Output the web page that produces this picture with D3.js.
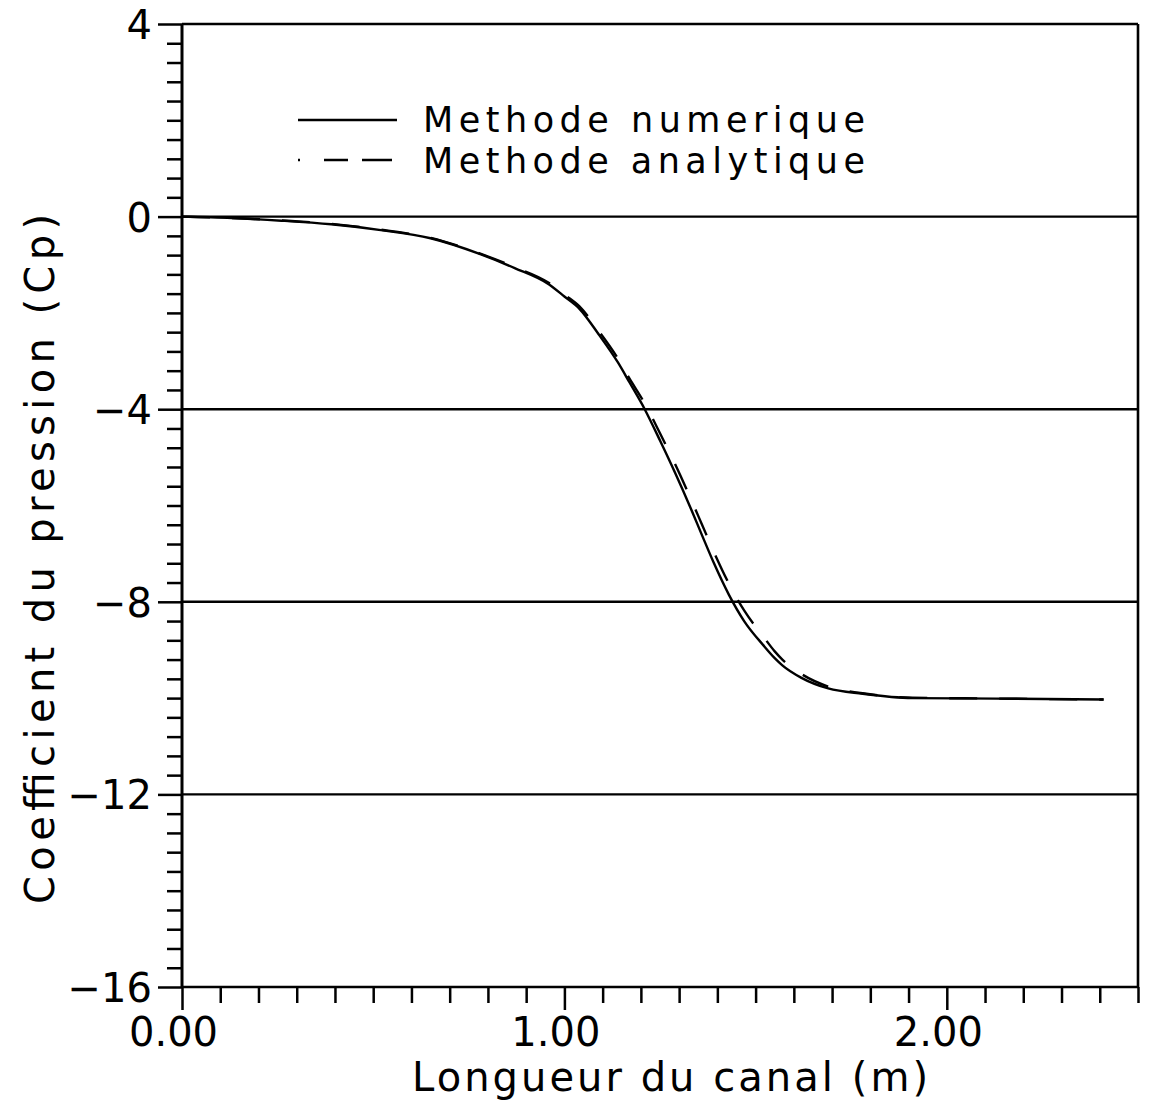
<!DOCTYPE html>
<html>
<head>
<meta charset="utf-8">
<script src="https://cdn.jsdelivr.net/npm/d3@7"></script>
<style>
  html, body { margin: 0; padding: 0; background: #fff; }
  svg text { font-family: "DejaVu Sans", "Liberation Sans", sans-serif; fill: #000; }
</style>
</head>
<body>
<div id="chart"></div>
<script>
// channel length (m)
const lengths = [0, 0.13, 0.26, 0.39, 0.52, 0.65, 0.78, 0.87, 0.96, 1.00, 1.04, 1.09, 1.14, 1.17, 1.21, 1.25, 1.29, 1.33, 1.36, 1.39, 1.43, 1.47, 1.52, 1.55, 1.57, 1.62, 1.69, 1.78, 1.91, 2.13, 2.41];
// pressure coefficient, numerical method
const cpNumerique = [0, -0.03, -0.085, -0.16, -0.28, -0.45, -0.78, -1.07, -1.41, -1.66, -1.92, -2.45, -3.03, -3.44, -4.0, -4.65, -5.33, -6.05, -6.62, -7.18, -7.85, -8.40, -8.90, -9.17, -9.32, -9.58, -9.80, -9.91, -10.0, -10.01, -10.03];
// pressure coefficient, analytical method
const cpAnalytique = [0, -0.03, -0.08, -0.15, -0.27, -0.44, -0.77, -1.05, -1.38, -1.62, -1.87, -2.38, -2.95, -3.36, -3.88, -4.50, -5.15, -5.85, -6.40, -6.95, -7.62, -8.18, -8.72, -9.03, -9.20, -9.50, -9.76, -9.90, -9.99, -10.01, -10.03];

const yMajor = [4, 0, -4, -8, -12, -16];
const xMajor = [0, 1, 2];
const seriesNames = ["Methode numerique", "Methode analytique"];
const xTitle = "Longueur du canal (m)";
const yTitle = "Coefficient du pression (Cp)";

const W = 1149, H = 1108;
const margin = { left: 182, right: 1138, top: 24, bottom: 987 };

const svg = d3.select("#chart").append("svg")
    .attr("width", W)
    .attr("height", H);

const x = d3.scaleLinear().domain([0, 2.5]).range([margin.left, margin.right]);
const y = d3.scaleLinear().domain([-16, 4]).range([margin.bottom, margin.top]);

// Horizontal lines at the major values (top and bottom ones close the frame)
svg.append("g")
    .selectAll("line")
    .data(yMajor)
    .join("line")
    .attr("x1", margin.left)
    .attr("x2", margin.right)
    .attr("y1", d => y(d))
    .attr("y2", d => y(d))
    .attr("stroke", "#000")
    .attr("stroke-width", 2.4);

// Left and right sides of the frame
svg.append("line")
    .attr("x1", margin.left).attr("x2", margin.left)
    .attr("y1", margin.top).attr("y2", margin.bottom)
    .attr("stroke", "#000").attr("stroke-width", 3);
svg.append("line")
    .attr("x1", margin.right).attr("x2", margin.right)
    .attr("y1", margin.top).attr("y2", margin.bottom)
    .attr("stroke", "#000").attr("stroke-width", 2.6);

// Y axis: minor ticks every 0.4
const yMinor = d3.range(-16, 4.001, 0.4).filter(v => !yMajor.some(m => Math.abs(m - v) < 1e-6));
svg.append("g")
    .attr("transform", `translate(${margin.left},0)`)
    .call(d3.axisLeft(y).tickValues(yMinor).tickSize(15).tickFormat(""))
    .call(g => g.select(".domain").remove())
    .call(g => g.selectAll("line").attr("stroke", "#000").attr("stroke-width", 2.5));

svg.append("g")
    .attr("transform", `translate(${margin.left},0)`)
    .call(d3.axisLeft(y).tickValues(yMajor).tickSize(24).tickPadding(6)
        .tickFormat(d => d < 0 ? "\u2212" + Math.abs(d) : d))
    .call(g => g.select(".domain").remove())
    .call(g => g.selectAll("line").attr("stroke", "#000").attr("stroke-width", 2.5))
    .call(g => g.selectAll("text").attr("font-size", 40).attr("fill", "#000")
        .attr("font-family", "DejaVu Sans").attr("dy", "0.36em"));

// X axis: minor ticks every 0.1
const xMinor = d3.range(0.1, 2.501, 0.1).filter(v => !xMajor.some(m => Math.abs(m - v) < 1e-6));
svg.append("g")
    .attr("transform", `translate(0,${margin.bottom})`)
    .call(d3.axisBottom(x).tickValues(xMinor).tickSize(16).tickFormat(""))
    .call(g => g.select(".domain").remove())
    .call(g => g.selectAll("line").attr("stroke", "#000").attr("stroke-width", 2.5));

svg.append("g")
    .attr("transform", `translate(0,${margin.bottom})`)
    .call(d3.axisBottom(x).tickValues(xMajor).tickSize(23).tickPadding(8)
        .tickFormat(d3.format(".2f")))
    .call(g => g.select(".domain").remove())
    .call(g => g.selectAll("line").attr("stroke", "#000").attr("stroke-width", 2.5))
    .call(g => g.selectAll("text").attr("font-size", 40).attr("fill", "#000")
        .attr("font-family", "DejaVu Sans").attr("dx", -9));

// Curves
const rows = lengths.map((l, i) => ({ l, num: cpNumerique[i], ana: cpAnalytique[i] }));

const lineNum = d3.line().x(d => x(d.l)).y(d => y(d.num)).curve(d3.curveMonotoneX);
const lineAna = d3.line().x(d => x(d.l)).y(d => y(d.ana)).curve(d3.curveMonotoneX);

svg.append("path")
    .datum(rows)
    .attr("d", lineAna)
    .attr("fill", "none")
    .attr("stroke", "#000")
    .attr("stroke-width", 2.4)
    .attr("stroke-dasharray", "28 22");

svg.append("path")
    .datum(rows)
    .attr("d", lineNum)
    .attr("fill", "none")
    .attr("stroke", "#000")
    .attr("stroke-width", 2.4);

// Legend
const legend = svg.append("g");
legend.append("line")
    .attr("x1", 298).attr("x2", 397).attr("y1", 120).attr("y2", 120)
    .attr("stroke", "#000").attr("stroke-width", 2.4);
legend.append("line")
    .attr("x1", 298).attr("x2", 392).attr("y1", 160).attr("y2", 160)
    .attr("stroke", "#000").attr("stroke-width", 2.4)
    .attr("stroke-dasharray", "2 24 24 14 30");
legend.selectAll("text")
    .data(seriesNames)
    .join("text")
    .attr("x", 423)
    .attr("y", (d, i) => i === 0 ? 132 : 173)
    .attr("font-size", 35)
    .attr("textLength", 442)
    .attr("lengthAdjust", "spacing")
    .text(d => d);

// Axis titles
svg.append("text")
    .attr("x", 412)
    .attr("y", 1091)
    .attr("font-size", 40)
    .attr("textLength", 516)
    .attr("lengthAdjust", "spacing")
    .text(xTitle);

svg.append("text")
    .attr("transform", "translate(54,559) rotate(-90)")
    .attr("text-anchor", "middle")
    .attr("font-size", 40)
    .attr("textLength", 690)
    .attr("lengthAdjust", "spacing")
    .text(yTitle);
</script>
</body>
</html>
